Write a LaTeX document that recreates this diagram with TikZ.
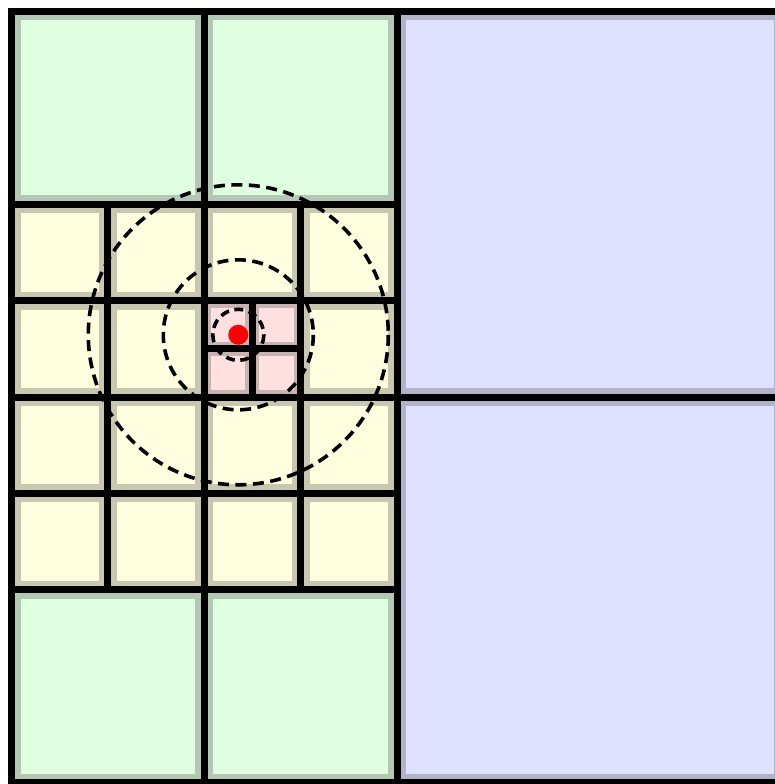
\documentclass[tikz,border=0pt]{standalone}
\definecolor{gfill}{HTML}{E0FFE0}\definecolor{gbord}{HTML}{B2C8B2}
\definecolor{yfill}{HTML}{FFFFE0}\definecolor{ybord}{HTML}{C8C8B0}
\definecolor{bfill}{HTML}{E0E0FF}\definecolor{bbord}{HTML}{B2B2CA}
\definecolor{pfill}{HTML}{FFE0E0}\definecolor{pbord}{HTML}{C8B2B2}
\newcommand{\qcellw}[7]{%
  \fill[#4] ({11.5+#1*96.375},{11.5+#2*96.375}) rectangle ({11.5+(#1+#3)*96.375},{11.5+(#2+#3)*96.375});
  \draw[#5,line width=#6] ({11.5+#1*96.375+#7},{11.5+#2*96.375+#7}) rectangle ({11.5+(#1+#3)*96.375-#7},{11.5+(#2+#3)*96.375-#7});
}
\newcommand{\qcell}[5]{\qcellw{#1}{#2}{#3}{#4}{#5}{5.5}{6.25}}
\newcommand{\qline}[3]{%
  \draw[gridline] ({11.5+#1*96.375},{11.5+#2*96.375}) rectangle ({11.5+(#1+#3)*96.375},{11.5+(#2+#3)*96.375});
}
\begin{document}
\begin{tikzpicture}[x=1pt,y=-1pt,
  gridline/.style={line width=7, draw=black, line join=miter},
  ring/.style={draw=black, line width=3.6, dash pattern=on 11 off 6.5}]
\useasboundingbox (0,0) rectangle (775,784);
\clip (0,0) rectangle (775,784);
% green cells
\qcell{0}{0}{2}{gfill}{gbord}
\qcell{2}{0}{2}{gfill}{gbord}
\qcell{0}{6}{2}{gfill}{gbord}
\qcell{2}{6}{2}{gfill}{gbord}
% blue cells
\qcell{4}{0}{4}{bfill}{bbord}
\qcell{4}{4}{4}{bfill}{bbord}
% yellow cells
\foreach \i in {0,1,2,3}{
  \foreach \j in {2,3,4,5}{
    \qcell{\i}{\j}{1}{yfill}{ybord}
  }
}
% pink cells
\qcellw{2}{3}{0.5}{pfill}{pbord}{3.5}{5.25}
\qcellw{2.5}{3}{0.5}{pfill}{pbord}{3.5}{5.25}
\qcellw{2}{3.5}{0.5}{pfill}{pbord}{3.5}{5.25}
\qcellw{2.5}{3.5}{0.5}{pfill}{pbord}{3.5}{5.25}
% black grid lines
\qline{0}{0}{2}\qline{2}{0}{2}\qline{0}{6}{2}\qline{2}{6}{2}
\qline{4}{0}{4}\qline{4}{4}{4}
\foreach \i in {0,1,2,3}{\foreach \j in {2,3,4,5}{\qline{\i}{\j}{1}}}
\qline{2}{3}{0.5}\qline{2.5}{3}{0.5}\qline{2}{3.5}{0.5}\qline{2.5}{3.5}{0.5}
% query point and rings
\coordinate (q) at (238.3,334.8);
\draw[ring] (q) circle[radius=150];
\draw[ring] (q) circle[radius=75];
\draw[ring, dash pattern=on 9 off 5.5] (q) circle[radius=25.5];
\fill[red] (q) circle[radius=10];
\end{tikzpicture}
\end{document}
